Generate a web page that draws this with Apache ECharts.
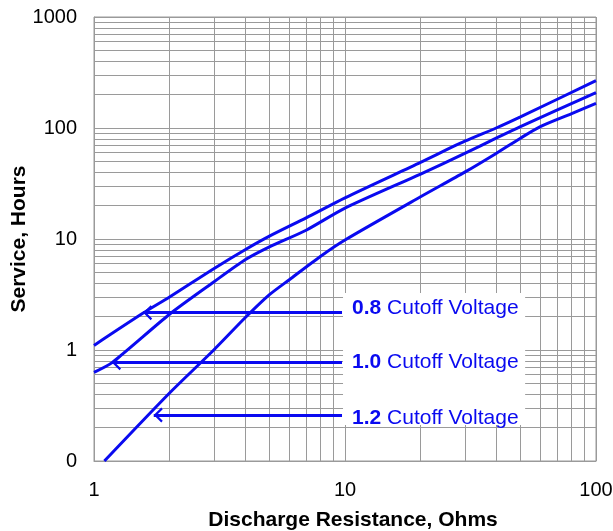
<!DOCTYPE html>
<html>
<head>
<meta charset="utf-8">
<script src="https://cdn.jsdelivr.net/npm/echarts@6/dist/echarts.min.js"></script>
<style>html,body{margin:0;padding:0;background:#fff;}#c{width:613px;height:531px;}</style>
</head>
<body>
<div id="c"></div>
<script>
// Curve data: discharge resistance (ohms) vs service (hours)
const r08 = [1, 1.57, 2, 3, 4, 5, 7, 10, 20, 30, 40, 50, 100];
const h08 = [1.1, 2.15, 3.0, 5.4, 8.0, 10.6, 15.5, 23.5, 49, 76, 100, 126, 267];
const r10 = [1, 1.18, 2, 3, 4, 5, 7, 10, 20, 30, 40, 50, 100];
const h10 = [0.63, 0.77, 2.1, 4.1, 6.5, 8.5, 12, 19, 38.5, 59, 81, 103, 208];
const r12 = [1.1, 2, 3, 4, 5, 6, 8, 10, 20, 30, 40, 50, 60, 80, 100];
const h12 = [0.1, 0.41, 1.0, 1.95, 3.15, 4.3, 7.0, 9.8, 24, 40, 59, 81, 103, 135, 167];

// Annotation arrows
const cutoffNames = ['0.8', '1.0', '1.2'];
const arrowY = [2.17, 0.769, 0.26];
const arrowTipX = [1.57, 1.18, 1.73];
const arrowTailX = 9.73;
const labelOffsetY = [-4, 0, 3];
// white label box (data coords)
const boxX = [9.82, 52.2];
const boxY = [0.211, 3.26];

// Tick values
const xMinor = [2, 3, 4, 5, 6, 7, 8, 9, 20, 30, 40, 50, 60, 70, 80, 90];
const yMinor = [0.2, 0.3, 0.4, 0.5, 0.6, 0.7, 0.8, 0.9, 2, 3, 4, 5, 6, 7, 8, 9,
                20, 30, 40, 50, 60, 70, 80, 90, 200, 300, 400, 500, 600, 700, 800, 900];

const BLUE = '#0a0af0';
const GRID = '#9a9a9a';
const FONT = 'Liberation Sans, Arial, sans-serif';
// open chevron with its tip at the symbol centre
const chevron = 'path://M7.5,-9 L7.5,-9 Z M7.5,0 L15,7.5 L13.3,9 L7.5,3.2 L1.7,9 L0,7.5 Z';

const zip = (a, b) => a.map((v, i) => [v, b[i]]);

const gridLines = xMinor.map(v => ({ xAxis: v })).concat(yMinor.map(v => ({ yAxis: v })));

const arrowData = cutoffNames.map((n, i) => [
  { coord: [arrowTailX, arrowY[i]],
    label: { offset: [0, labelOffsetY[i]], formatter: '{b|' + n + '} Cutoff Voltage' } },
  { coord: [arrowTipX[i], arrowY[i]] }
]);

const chart = echarts.init(document.getElementById('c'));
chart.setOption({
  animation: false,
  grid: { left: 94, right: 17, top: 17, bottom: 70, containLabel: false, outerBoundsMode: 'none',
    show: true, borderColor: GRID, borderWidth: 1 },
  xAxis: {
    type: 'log', logBase: 10, min: 1, max: 100,
    name: 'Discharge Resistance, Ohms', nameLocation: 'middle', nameGap: 49, nameMoveOverlap: false,
    nameTextStyle: { fontFamily: FONT, fontSize: 21, fontWeight: 'bold', color: '#000', padding: [0, 0, 0, 16] },
    axisLine: { lineStyle: { color: GRID } },
    axisTick: { show: false },
    axisLabel: { margin: 19, fontFamily: FONT, fontSize: 20, color: '#000' },
    splitLine: { show: true, lineStyle: { color: GRID, width: 1 } }
  },
  yAxis: {
    type: 'log', logBase: 10, min: 0.1, max: 1000,
    name: 'Service, Hours', nameLocation: 'middle', nameGap: 64, nameMoveOverlap: false,
    nameTextStyle: { fontFamily: FONT, fontSize: 21, fontWeight: 'bold', color: '#000' },
    axisLine: { show: true, lineStyle: { color: GRID } },
    axisTick: { show: false },
    axisLabel: { margin: 17, fontFamily: FONT, fontSize: 20, color: '#000',
      formatter: v => (v < 0.5 ? '0' : String(Math.round(v))) },
    splitLine: { show: true, lineStyle: { color: GRID, width: 1 } }
  },
  series: [
    {
      name: 'grid', type: 'line', data: [], silent: true, z: 1,
      markLine: { silent: true, symbol: ['none', 'none'], animation: false, z: 1,
        label: { show: false }, emphasis: { disabled: true },
        lineStyle: { color: GRID, width: 1, type: 'solid' }, data: gridLines }
    },
    {
      name: 'box', type: 'line', data: [], silent: true, z: 2,
      markArea: { silent: true, z: 2, itemStyle: { color: '#ffffff' }, label: { show: false },
        data: [[{ coord: [boxX[0], boxY[1]] }, { coord: [boxX[1], boxY[0]] }]] }
    },
    { name: '0.8', type: 'line', data: zip(r08, h08), smooth: 0.25, symbol: 'none', z: 3,
      lineStyle: { color: BLUE, width: 3 } },
    { name: '1.0', type: 'line', data: zip(r10, h10), smooth: 0.25, symbol: 'none', z: 3,
      lineStyle: { color: BLUE, width: 3 } },
    { name: '1.2', type: 'line', data: zip(r12, h12), smooth: 0.25, symbol: 'none', z: 3,
      lineStyle: { color: BLUE, width: 3 },
      markLine: {
        silent: true, z: 4, animation: false,
        symbol: ['none', chevron], symbolSize: [15, 18],
        lineStyle: { color: BLUE, width: 3, type: 'solid' },
        label: { show: true, position: 'start', distance: 10, color: BLUE,
          fontFamily: FONT, fontSize: 21,
          rich: { b: { fontWeight: 'bold', fontSize: 21, color: BLUE, fontFamily: FONT } } },
        emphasis: { disabled: true },
        data: arrowData
      }
    }
  ]
});
</script>
</body>
</html>
